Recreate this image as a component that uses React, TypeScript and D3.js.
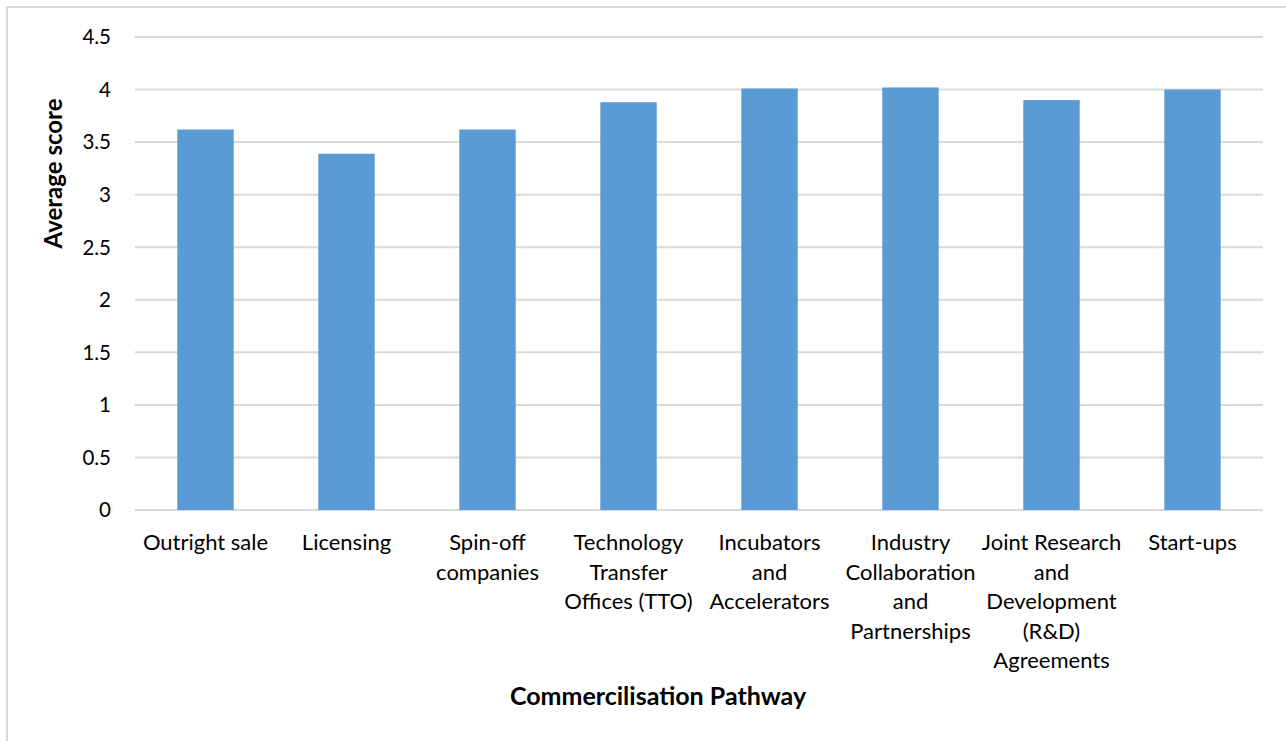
import React, { useEffect, useRef } from "react";
import * as d3 from "d3";

const categories: string[] = [
  "Outright sale",
  "Licensing",
  "Spin-off\ncompanies",
  "Technology\nTransfer\nOffices (TTO)",
  "Incubators\nand\nAccelerators",
  "Industry\nCollaboration\nand\nPartnerships",
  "Joint Research\nand\nDevelopment\n(R&D)\nAgreements",
  "Start-ups",
];

const averageScores: number[] = [3.62, 3.39, 3.62, 3.88, 4.01, 4.02, 3.9, 4.0];

const yTicks: number[] = [0, 0.5, 1, 1.5, 2, 2.5, 3, 3.5, 4, 4.5];

const xTitle = "Commercilisation Pathway";
const yTitle = "Average score";

const W = 1286;
const H = 741;
const margin = { left: 135, right: 23, top: 37, bottom: 231 };
const FONT = "Lato, 'Open Sans', sans-serif";

export default function App() {
  const ref = useRef<SVGSVGElement | null>(null);

  useEffect(() => {
    const svg = d3.select(ref.current);
    svg.selectAll("*").remove();

    const x0 = margin.left;
    const x1 = W - margin.right;
    const y0 = H - margin.bottom;
    const y1 = margin.top;

    const x = d3
      .scaleBand<string>()
      .domain(categories)
      .range([x0, x1])
      .paddingInner(0.6)
      .paddingOuter(0.3);
    const y = d3.scaleLinear().domain([0, 4.5]).range([y0, y1]);

    svg.append("rect").attr("width", W).attr("height", H).attr("fill", "#fff");

    // frame edges
    svg
      .append("path")
      .attr("d", `M7,${H} V7 H${W}`)
      .attr("fill", "none")
      .attr("stroke", "#d9d9d9")
      .attr("stroke-width", 2);

    // gridlines
    svg
      .append("g")
      .selectAll("line")
      .data(yTicks)
      .join("line")
      .attr("x1", x0)
      .attr("x2", x1)
      .attr("y1", (d) => y(d))
      .attr("y2", (d) => y(d))
      .attr("stroke", "#d9d9d9")
      .attr("stroke-width", 2);

    // y tick labels
    svg
      .append("g")
      .selectAll("text")
      .data(yTicks)
      .join("text")
      .attr("x", 111)
      .attr("y", (d) => y(d))
      .attr("dy", "0.36em")
      .attr("text-anchor", "end")
      .attr("font-family", FONT)
      .attr("font-size", 20.5)
      .attr("fill", "#000")
      .text((d) => String(d));

    // bars
    svg
      .append("g")
      .selectAll("rect")
      .data(categories)
      .join("rect")
      .attr("x", (d) => x(d)!)
      .attr("width", x.bandwidth())
      .attr("y", (d, i) => y(averageScores[i]))
      .attr("height", (d, i) => y0 - y(averageScores[i]))
      .attr("fill", "#5b9bd5");

    // category labels
    const lab = svg
      .append("g")
      .selectAll("text")
      .data(categories)
      .join("text")
      .attr("text-anchor", "middle")
      .attr("font-family", FONT)
      .attr("font-size", 22)
      .attr("fill", "#000");
    lab.each(function (d) {
      const t = d3.select(this);
      const cx = x(d)! + x.bandwidth() / 2;
      d.split("\n").forEach((line, k) => {
        t.append("tspan")
          .attr("x", cx)
          .attr("y", 550 + k * 29.5)
          .text(line);
      });
    });

    // axis titles
    svg
      .append("text")
      .attr("x", 658)
      .attr("y", 705)
      .attr("text-anchor", "middle")
      .attr("font-family", FONT)
      .attr("font-weight", "bold")
      .attr("font-size", 25)
      .attr("fill", "#000")
      .text(xTitle);

    svg
      .append("text")
      .attr("transform", `translate(62,173.5) rotate(-90)`)
      .attr("text-anchor", "middle")
      .attr("font-family", FONT)
      .attr("font-weight", "bold")
      .attr("font-size", 24)
      .attr("fill", "#000")
      .text(yTitle);
  }, []);

  return (
    <svg
      ref={ref}
      width={W}
      height={H}
      style={{ position: "absolute", left: 0, top: 0, display: "block" }}
    />
  );
}
